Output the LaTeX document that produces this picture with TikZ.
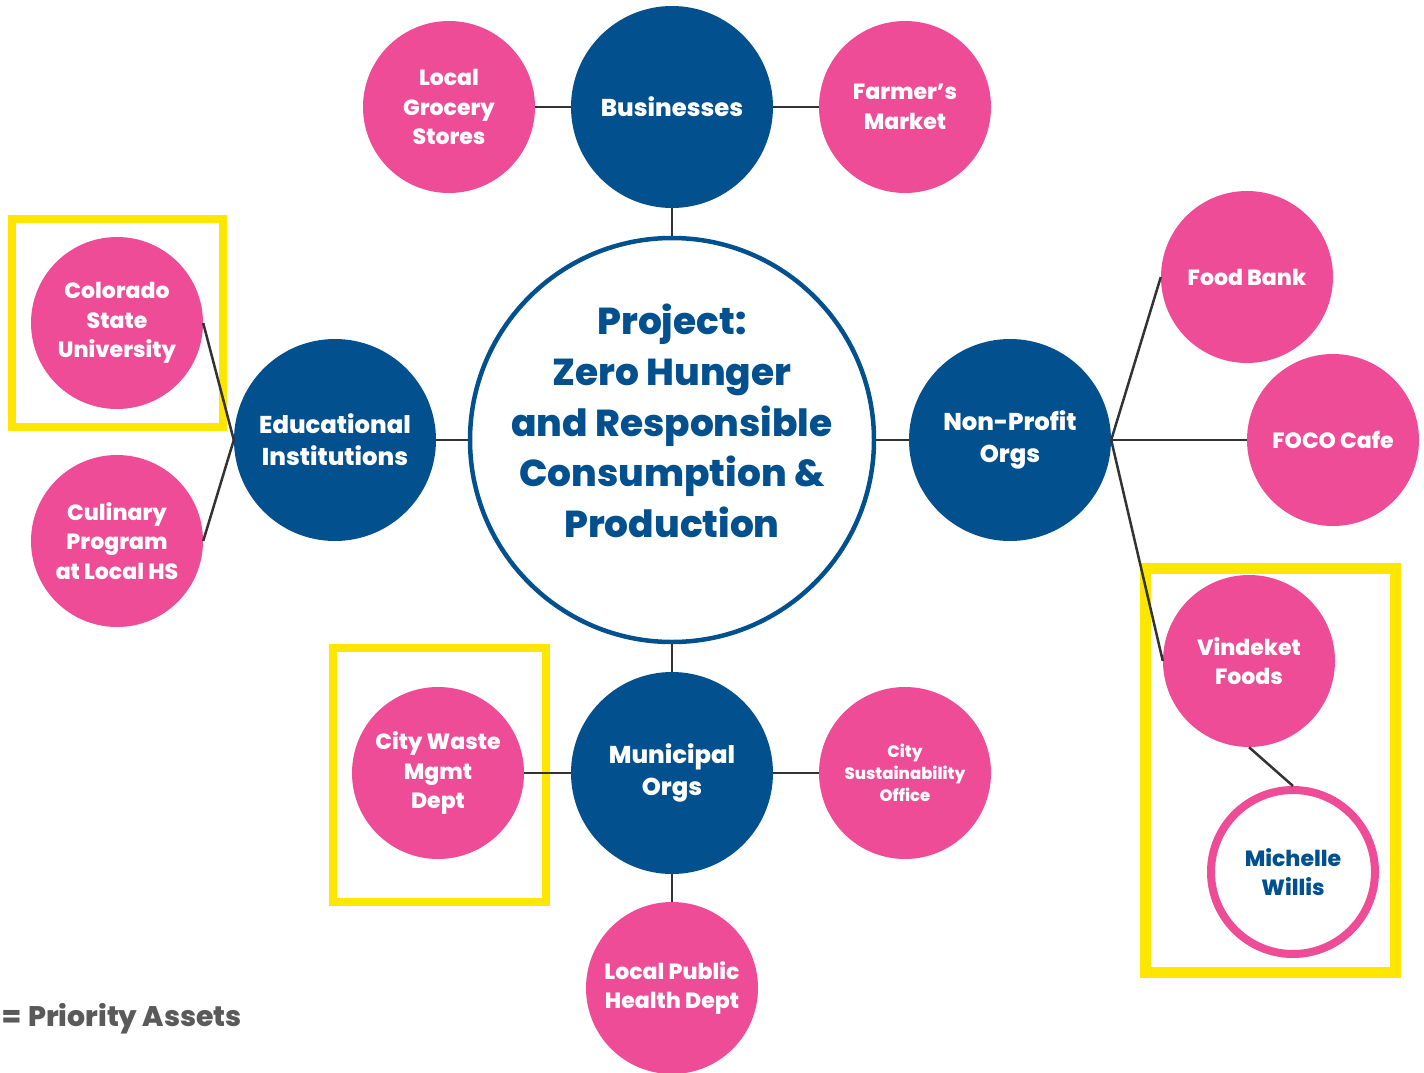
\documentclass[tikz,border=0pt]{standalone}
\usepackage{fontspec}
\setmainfont{Poppins}[BoldFont={* ExtraBold}]
\definecolor{navy}{HTML}{03508F}
\definecolor{pinkc}{HTML}{EE4C97}
\definecolor{yel}{HTML}{FFE600}
\definecolor{connc}{HTML}{333333}
\definecolor{legc}{HTML}{5A5A5A}
\tikzset{
  hub/.style={circle, fill=navy, draw=none, minimum size=202pt, inner sep=0pt, align=center, text=white, font=\bfseries\fontsize{24.3}{32}\selectfont},
  leaf/.style={circle, fill=pinkc, draw=none, minimum size=172pt, inner sep=0pt, align=center, text=white, font=\bfseries\fontsize{22}{29.5}\selectfont},
  person/.style={circle, fill=white, draw=pinkc, line width=8pt, minimum size=164pt, inner sep=0pt, align=center, text=navy, font=\bfseries\fontsize{22}{29.5}\selectfont},
  core/.style={circle, fill=white, draw=navy, line width=4.5pt, minimum size=404pt, inner sep=0pt},
  prio/.style={draw=yel, line width=8pt},
  conn/.style={draw=connc, line width=2.5pt}
}
\begin{document}
\begin{tikzpicture}[x=1pt,y=-1pt]
\useasboundingbox[fill=white] (0,0) rectangle (1424,1073);
% priority boxes
\draw[prio] (12,219) rectangle (223,427);
\draw[prio] (333,647.5) rectangle (545.5,901.5);
\draw[prio, line width=11pt] (1145,568) rectangle (1395.5,972.5);
% nodes
\node[core] (proj) at (672,440) {};
\node[text=navy, align=center, font=\bfseries\fontsize{37.5}{50.7}\selectfont] (title) at (672,421) {Project:\\Zero Hunger\\and Responsible\\Consumption \&\\Production};
\node[hub] (biz) at (672,107) {Businesses};
\node[leaf] (lgs) at (449,107) {Local\\Grocery\\Stores};
\node[leaf] (fm) at (905,107) {Farmer’s\\Market};
\node[hub] (edu) at (335,440) {Educational\\Institutions};
\node[leaf] (csu) at (117,323) {Colorado\\State\\University};
\node[leaf] (cul) at (117,541) {Culinary\\Program\\at Local HS};
\node[hub] (np) at (1010,440) {Non-Profit\\Orgs};
\node[leaf] (fb) at (1247,277) {Food Bank};
\node[leaf] (foco) at (1333,440) {FOCO Cafe};
\node[leaf] (vf) at (1249,661) {Vindeket\\Foods};
\node[person] (mw) at (1293,872) {Michelle\\Willis};
\node[hub] (mun) at (672,773) {Municipal\\Orgs};
\node[leaf] (cwm) at (438,773) {City Waste\\Mgmt\\Dept};
\node[leaf, font=\bfseries\fontsize{16.5}{22}\selectfont] (cso) at (905,773) {City\\Sustainability\\Office};
\node[leaf] (lph) at (672,988) {Local Public\\Health Dept};
% connectors
\draw[conn] (biz.south) -- (proj.north);
\draw[conn] (lgs.east) -- (biz.west);
\draw[conn] (biz.east) -- (fm.west);
\draw[conn] (edu.east) -- (proj.west);
\draw[conn] (csu.east) -- (edu.west);
\draw[conn] (cul.east) -- (edu.west);
\draw[conn] (proj.east) -- (np.west);
\draw[conn] (np.east) -- (fb.west);
\draw[conn] (np.east) -- (foco.west);
\draw[conn] (np.east) -- (vf.west);
\draw[conn] (vf.south) -- (mw.north);
\draw[conn] (proj.south) -- (mun.north);
\draw[conn] (cwm.east) -- (mun.west);
\draw[conn] (mun.east) -- (cso.west);
\draw[conn] (mun.south) -- (lph.north);
% legend
\node[anchor=west, text=legc, font=\bfseries\fontsize{28.3}{34}\selectfont, inner sep=0pt] (legend) at (2,1019) {=\hspace{2pt} Priority Assets};
\end{tikzpicture}
\end{document}
